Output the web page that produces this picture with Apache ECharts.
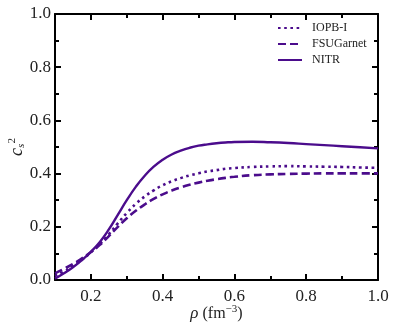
<!DOCTYPE html>
<html>
<head>
<meta charset="utf-8">
<script src="https://cdn.jsdelivr.net/npm/echarts@6/dist/echarts.min.js"></script>
<style>
  html, body { margin: 0; padding: 0; background: #fff; }
  #chart { width: 396px; height: 330px; }
</style>
</head>
<body>
<div id="chart"></div>
<script>
// density rho (fm^-3)
const rho = [0.100, 0.125, 0.150, 0.175, 0.200, 0.225, 0.250, 0.275, 0.300, 0.325,
             0.350, 0.375, 0.400, 0.425, 0.450, 0.475, 0.500, 0.525, 0.550, 0.575,
             0.600, 0.65, 0.70, 0.75, 0.80, 0.85, 0.90, 0.95, 1.00];

// squared speed of sound c_s^2
const iopb = [0.015, 0.032, 0.052, 0.076, 0.104, 0.136, 0.172, 0.213, 0.252, 0.286,
              0.314, 0.337, 0.356, 0.371, 0.383, 0.393, 0.401, 0.408, 0.413, 0.418,
              0.421, 0.425, 0.427, 0.428, 0.427, 0.426, 0.425, 0.423, 0.422];
const fsuGarnet = [0.025, 0.042, 0.060, 0.081, 0.105, 0.132, 0.165, 0.200, 0.232, 0.260,
                   0.284, 0.305, 0.322, 0.336, 0.348, 0.358, 0.366, 0.373, 0.379, 0.384,
                   0.388, 0.394, 0.397, 0.399, 0.400, 0.401, 0.401, 0.401, 0.401];
const nitr = [0.005, 0.025, 0.048, 0.075, 0.106, 0.143, 0.190, 0.245, 0.300, 0.350,
              0.392, 0.426, 0.452, 0.472, 0.486, 0.497, 0.505, 0.510, 0.514, 0.517,
              0.519, 0.520, 0.518, 0.515, 0.511, 0.507, 0.503, 0.499, 0.495];

const xMajor = [0.2, 0.4, 0.6, 0.8, 1.0];
const xMinor = [0.1, 0.3, 0.5, 0.7, 0.9];

const color = '#4b0c8c';
const font = 'Liberation Serif';

const chart = echarts.init(document.getElementById('chart'));

const pairs = (ys) => rho.map((x, i) => [x, ys[i]]);

const xBase = {
  type: 'value',
  min: 0.1,
  max: 1.0,
  splitLine: { show: false },
  axisLine: { show: false },
  axisLabel: { show: false }
};

const yBase = {
  type: 'value',
  min: 0,
  max: 1.0,
  interval: 0.2,
  splitLine: { show: false },
  axisLine: { show: true, lineStyle: { color: '#000', width: 2 } },
  axisTick: { show: true, inside: true, length: 6, lineStyle: { color: '#000', width: 2 } },
  minorTick: { show: true, splitNumber: 2, length: 4, lineStyle: { color: '#000', width: 2 } },
  axisLabel: { show: false }
};

chart.setOption({
  animation: false,
  grid: { left: 55, right: 18, top: 14, bottom: 50, containLabel: false, outerBoundsMode: 'none' },
  legend: {
    orient: 'vertical',
    left: 272,
    top: 17,
    itemWidth: 24,
    itemHeight: 12,
    itemGap: 4,
    itemStyle: { opacity: 0 },
    textStyle: { fontFamily: font, fontSize: 12, color: '#222', padding: [0, 0, 0, 5] },
    data: ['IOPB-I', 'FSUGarnet', 'NITR']
  },
  xAxis: [
    {
      ...xBase,
      position: 'bottom',
      axisLine: { show: true, lineStyle: { color: '#000', width: 2 } },
      axisTick: { show: true, inside: true, length: 6, customValues: xMajor,
                  lineStyle: { color: '#000', width: 2 } },
      axisLabel: {
        show: true, customValues: xMajor, margin: 8,
        fontFamily: font, fontSize: 17, color: '#222',
        formatter: (v) => v.toFixed(1)
      },
      name: '{i|ρ} (fm{sup|−3})',
      nameLocation: 'middle',
      nameGap: 24,
      nameMoveOverlap: false,
      nameTextStyle: {
        fontFamily: font, fontSize: 16, color: '#222',
        rich: {
          i: { fontFamily: font, fontSize: 17, fontStyle: 'italic', color: '#222' },
          sup: { fontFamily: font, fontSize: 11, color: '#222', verticalAlign: 'top', padding: [0, 0, 8, 0] }
        }
      }
    },
    {
      ...xBase,
      position: 'bottom',
      axisTick: { show: true, inside: true, length: 4, customValues: xMinor,
                  lineStyle: { color: '#000', width: 2 } }
    },
    {
      ...xBase,
      position: 'top',
      axisLine: { show: true, lineStyle: { color: '#000', width: 2 } },
      axisTick: { show: true, inside: true, length: 6, customValues: xMajor,
                  lineStyle: { color: '#000', width: 2 } }
    },
    {
      ...xBase,
      position: 'top',
      axisTick: { show: true, inside: true, length: 4, customValues: xMinor,
                  lineStyle: { color: '#000', width: 2 } }
    }
  ],
  yAxis: [
    {
      ...yBase,
      position: 'left',
      axisLabel: {
        show: true, margin: 4,
        fontFamily: font, fontSize: 17, color: '#222',
        formatter: (v) => v.toFixed(1)
      },
      name: '{c|c}{s|s}{t|2}',
      nameLocation: 'middle',
      nameGap: 27,
      nameMoveOverlap: false,
      nameRotate: 90,
      nameTextStyle: {
        rich: {
          c: { fontFamily: font, fontSize: 18, fontStyle: 'italic', color: '#222' },
          s: { fontFamily: font, fontSize: 11, fontStyle: 'italic', color: '#222', padding: [8, 0, 0, 0] },
          t: { fontFamily: font, fontSize: 11, color: '#222', padding: [0, 0, 10, 0] }
        }
      }
    },
    { ...yBase, position: 'right' }
  ],
  series: [
    {
      name: 'IOPB-I', type: 'line', xAxisIndex: 0, yAxisIndex: 0,
      smooth: true, showSymbol: false, symbol: 'none',
      lineStyle: { color: color, width: 2.6, type: [2.6, 3.6] },
      itemStyle: { color: color },
      data: pairs(iopb)
    },
    {
      name: 'FSUGarnet', type: 'line', xAxisIndex: 0, yAxisIndex: 0,
      smooth: true, showSymbol: false, symbol: 'none',
      lineStyle: { color: color, width: 2.6, type: [8, 4] },
      itemStyle: { color: color },
      data: pairs(fsuGarnet)
    },
    {
      name: 'NITR', type: 'line', xAxisIndex: 0, yAxisIndex: 0,
      smooth: true, showSymbol: false, symbol: 'none',
      lineStyle: { color: color, width: 2.4 },
      itemStyle: { color: color },
      data: pairs(nitr)
    }
  ]
});
</script>
</body>
</html>
